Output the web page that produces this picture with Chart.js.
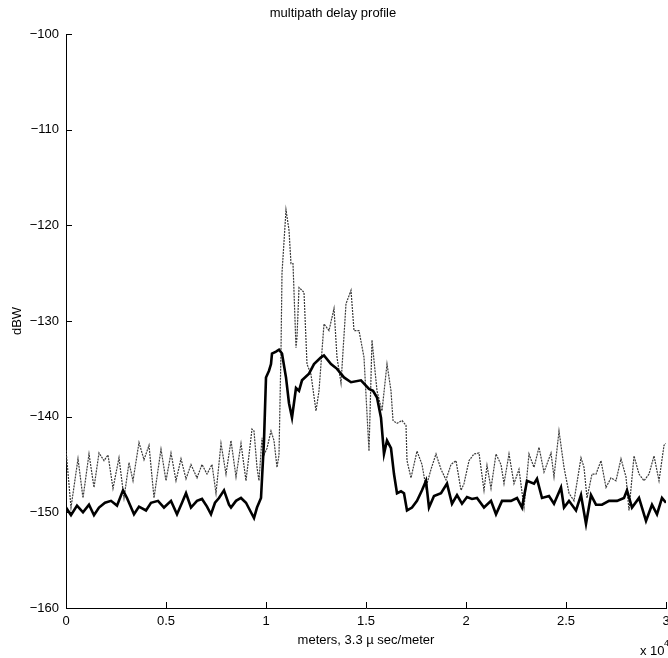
<!DOCTYPE html>
<html><head><meta charset="utf-8">
<script src="https://cdn.jsdelivr.net/npm/chart.js@4.4.1/dist/chart.umd.min.js"></script>
<style>html,body{margin:0;padding:0;background:#fff;overflow:hidden}canvas{display:block}</style>
</head><body>
<canvas id="c" width="668" height="658"></canvas>
<script>
const chartTitle = 'multipath delay profile';
const xTitle = 'meters, 3.3 \u00b5 sec/meter';
const yTitle = 'dBW';
const xExponent = '4';
const xTickValues = [0, 0.5, 1, 1.5, 2, 2.5, 3];
const yTickValues = [-160, -150, -140, -130, -120, -110, -100];

const grayX = [0.000,0.025,0.060,0.085,0.115,0.140,0.165,0.190,0.210,0.235,0.265,0.290,0.315,0.335,0.365,0.390,0.415,0.440,0.475,0.500,0.525,0.550,0.575,0.600,0.625,0.655,0.680,0.705,0.730,0.750,0.775,0.800,0.825,0.850,0.875,0.900,0.930,0.940,0.955,0.965,0.980,0.990,1.005,1.025,1.040,1.055,1.065,1.075,1.080,1.100,1.115,1.125,1.135,1.150,1.155,1.165,1.190,1.205,1.225,1.250,1.265,1.290,1.315,1.340,1.355,1.375,1.400,1.425,1.440,1.465,1.490,1.515,1.530,1.555,1.580,1.605,1.625,1.635,1.655,1.680,1.700,1.705,1.725,1.755,1.780,1.800,1.825,1.850,1.875,1.900,1.925,1.950,1.975,1.990,2.015,2.040,2.065,2.090,2.105,2.125,2.150,2.175,2.190,2.215,2.240,2.265,2.290,2.315,2.340,2.365,2.390,2.425,2.440,2.465,2.490,2.515,2.540,2.575,2.590,2.605,2.630,2.650,2.675,2.700,2.725,2.750,2.775,2.800,2.815,2.840,2.865,2.890,2.915,2.940,2.965,2.990,3.000];
const grayY = [-143.5,-149.5,-144.4,-148.5,-143.9,-147.4,-143.8,-144.6,-144.0,-147.5,-144.3,-148.5,-144.8,-146.7,-142.7,-144.5,-143.0,-148.5,-143.4,-146.7,-143.8,-146.7,-144.4,-146.5,-145.0,-146.4,-145.0,-146.0,-145.0,-148.0,-142.8,-146.0,-142.5,-146.3,-142.8,-146.7,-141.3,-141.5,-145.3,-146.7,-142.2,-144.0,-143.3,-141.5,-142.5,-145.3,-144.0,-133.1,-125.0,-118.4,-120.5,-124.0,-124.0,-132.8,-131.7,-126.5,-127.0,-134.5,-135.6,-139.4,-137.3,-130.3,-131.0,-128.7,-133.8,-136.5,-128.2,-126.8,-131.0,-131.0,-133.8,-143.6,-132.0,-137.3,-139.4,-134.5,-137.3,-140.4,-140.7,-140.4,-140.9,-144.6,-146.4,-143.6,-145.0,-147.4,-145.5,-143.9,-145.5,-146.6,-145.0,-144.6,-147.7,-147.0,-144.6,-143.9,-143.8,-147.7,-145.1,-147.5,-143.9,-145.0,-147.0,-143.9,-147.0,-145.5,-149.5,-143.9,-145.3,-143.2,-145.8,-143.8,-146.3,-141.5,-145.3,-148.0,-148.8,-144.3,-145.3,-148.5,-146.0,-146.0,-144.6,-147.4,-146.4,-146.7,-144.4,-146.3,-149.8,-144.1,-146.0,-146.7,-146.0,-144.1,-146.7,-143.0,-142.8];

const darkX = [0.000,0.025,0.055,0.085,0.115,0.140,0.165,0.195,0.225,0.255,0.285,0.305,0.340,0.365,0.400,0.425,0.460,0.490,0.525,0.555,0.580,0.600,0.625,0.655,0.680,0.705,0.725,0.745,0.765,0.790,0.815,0.825,0.850,0.875,0.900,0.915,0.940,0.955,0.975,0.990,1.000,1.015,1.025,1.030,1.050,1.065,1.080,1.100,1.115,1.130,1.150,1.165,1.180,1.215,1.240,1.275,1.290,1.325,1.355,1.390,1.425,1.475,1.515,1.535,1.555,1.575,1.590,1.605,1.625,1.640,1.655,1.675,1.690,1.705,1.730,1.755,1.780,1.800,1.815,1.840,1.875,1.905,1.930,1.955,1.980,2.005,2.030,2.055,2.090,2.125,2.150,2.180,2.225,2.255,2.280,2.305,2.340,2.355,2.380,2.415,2.440,2.475,2.490,2.515,2.550,2.575,2.600,2.625,2.650,2.680,2.715,2.755,2.790,2.805,2.830,2.865,2.900,2.930,2.955,2.980,3.000];
const darkY = [-149.5,-150.3,-149.3,-150.0,-149.2,-150.3,-149.5,-149.0,-148.8,-149.3,-147.7,-148.5,-150.2,-149.4,-149.8,-149.0,-148.8,-149.5,-148.8,-150.2,-149.0,-148.0,-149.5,-148.8,-148.6,-149.4,-150.2,-149.0,-148.5,-147.7,-149.2,-149.5,-148.8,-148.5,-149.0,-149.6,-150.6,-149.5,-148.5,-142.5,-135.9,-135.2,-134.5,-133.4,-133.2,-133.0,-133.4,-135.9,-138.6,-140.1,-137.0,-137.3,-136.2,-135.5,-134.5,-133.8,-133.6,-134.5,-135.0,-135.9,-136.4,-136.2,-137.1,-137.3,-138.0,-140.1,-143.9,-142.5,-143.3,-146.0,-148.0,-147.8,-148.0,-149.8,-149.5,-148.8,-147.7,-146.7,-149.5,-148.3,-148.0,-147.0,-149.1,-148.2,-149.1,-148.4,-148.6,-148.5,-149.5,-148.8,-150.2,-148.8,-148.8,-148.5,-149.5,-146.7,-147.0,-146.5,-148.5,-148.3,-149.1,-147.4,-149.5,-148.8,-149.8,-148.2,-151.2,-148.2,-149.2,-149.2,-148.8,-148.8,-148.5,-147.7,-149.5,-148.5,-150.9,-149.2,-150.2,-148.5,-149.0];

const FONT = '"Liberation Sans", Arial, Helvetica, sans-serif';
const toPts = (xs, ys) => xs.map((x, i) => ({x, y: ys[i]}));

const inwardTicks = {
  id: 'inwardTicks',
  afterDraw(chart) {
    const {ctx, chartArea: a, scales} = chart;
    ctx.save();
    ctx.strokeStyle = '#000';
    ctx.lineWidth = 1;
    ctx.beginPath();
    xTickValues.forEach(v => {
      const px = Math.round(scales.x.getPixelForValue(v)) + 0.5;
      ctx.moveTo(px, a.bottom); ctx.lineTo(px, a.bottom - 6);
    });
    yTickValues.forEach(v => {
      const py = Math.round(scales.y.getPixelForValue(v)) + 0.5;
      ctx.moveTo(a.left, py); ctx.lineTo(a.left + 6, py);
    });
    ctx.stroke();
    ctx.fillStyle = '#000';
    ctx.textBaseline = 'middle';
    ctx.textAlign = 'left';
    ctx.font = '13px ' + FONT;
    ctx.fillText('x 10', 640, 651);
    ctx.font = '9px ' + FONT;
    ctx.fillText(xExponent, 664, 644);
    ctx.restore();
  }
};

new Chart(document.getElementById('c'), {
  type: 'line',
  data: {
    datasets: [
      { data: toPts(darkX, darkY), borderColor: '#000', borderWidth: 2.6, pointRadius: 0, tension: 0 },
      { data: toPts(grayX, grayY), borderColor: '#3a3a3a', borderWidth: 1.2, borderDash: [2, 1], pointRadius: 0, tension: 0 }
    ]
  },
  options: {
    responsive: false,
    devicePixelRatio: 1,
    animation: false,
    layout: { padding: { top: 0, left: 0, right: 2, bottom: 0 } },
    plugins: {
      legend: { display: false },
      tooltip: { enabled: false },
      title: {
        display: true, text: chartTitle, color: '#000',
        font: { family: FONT, size: 13, weight: 'normal' },
        padding: { top: 6, bottom: 12.4 }
      }
    },
    scales: {
      x: {
        type: 'linear', min: xTickValues[0], max: xTickValues[xTickValues.length - 1],
        afterBuildTicks(s) { s.ticks = xTickValues.map(v => ({value: v})); },
        afterFit(s) { s.height = 50; s.paddingLeft = 0; s.paddingRight = 0; },
        grid: { display: false, drawTicks: false },
        border: { display: true, color: '#000', width: 1 },
        ticks: { color: '#000', padding: 6, maxRotation: 0, autoSkip: false, font: { family: FONT, size: 13 },
          callback: v => String(v) },
        title: { display: true, text: xTitle, color: '#000', font: { family: FONT, size: 13 }, padding: { top: 0, bottom: 10 } }
      },
      y: {
        type: 'linear', min: yTickValues[0], max: yTickValues[yTickValues.length - 1],
        afterBuildTicks(s) { s.ticks = yTickValues.map(v => ({value: v})); },
        afterFit(s) { s.width = 66; s.paddingTop = 0; s.paddingBottom = 0; },
        grid: { display: false, drawTicks: false },
        border: { display: true, color: '#000', width: 1 },
        ticks: { color: '#000', padding: 7, autoSkip: false, font: { family: FONT, size: 13 },
          callback: v => String(v).replace('-', '\u2212') },
        title: { display: true, text: yTitle, color: '#000', font: { family: FONT, size: 13 }, padding: { top: 10, bottom: 0 } }
      }
    }
  },
  plugins: [inwardTicks]
});
</script>
</body></html>
